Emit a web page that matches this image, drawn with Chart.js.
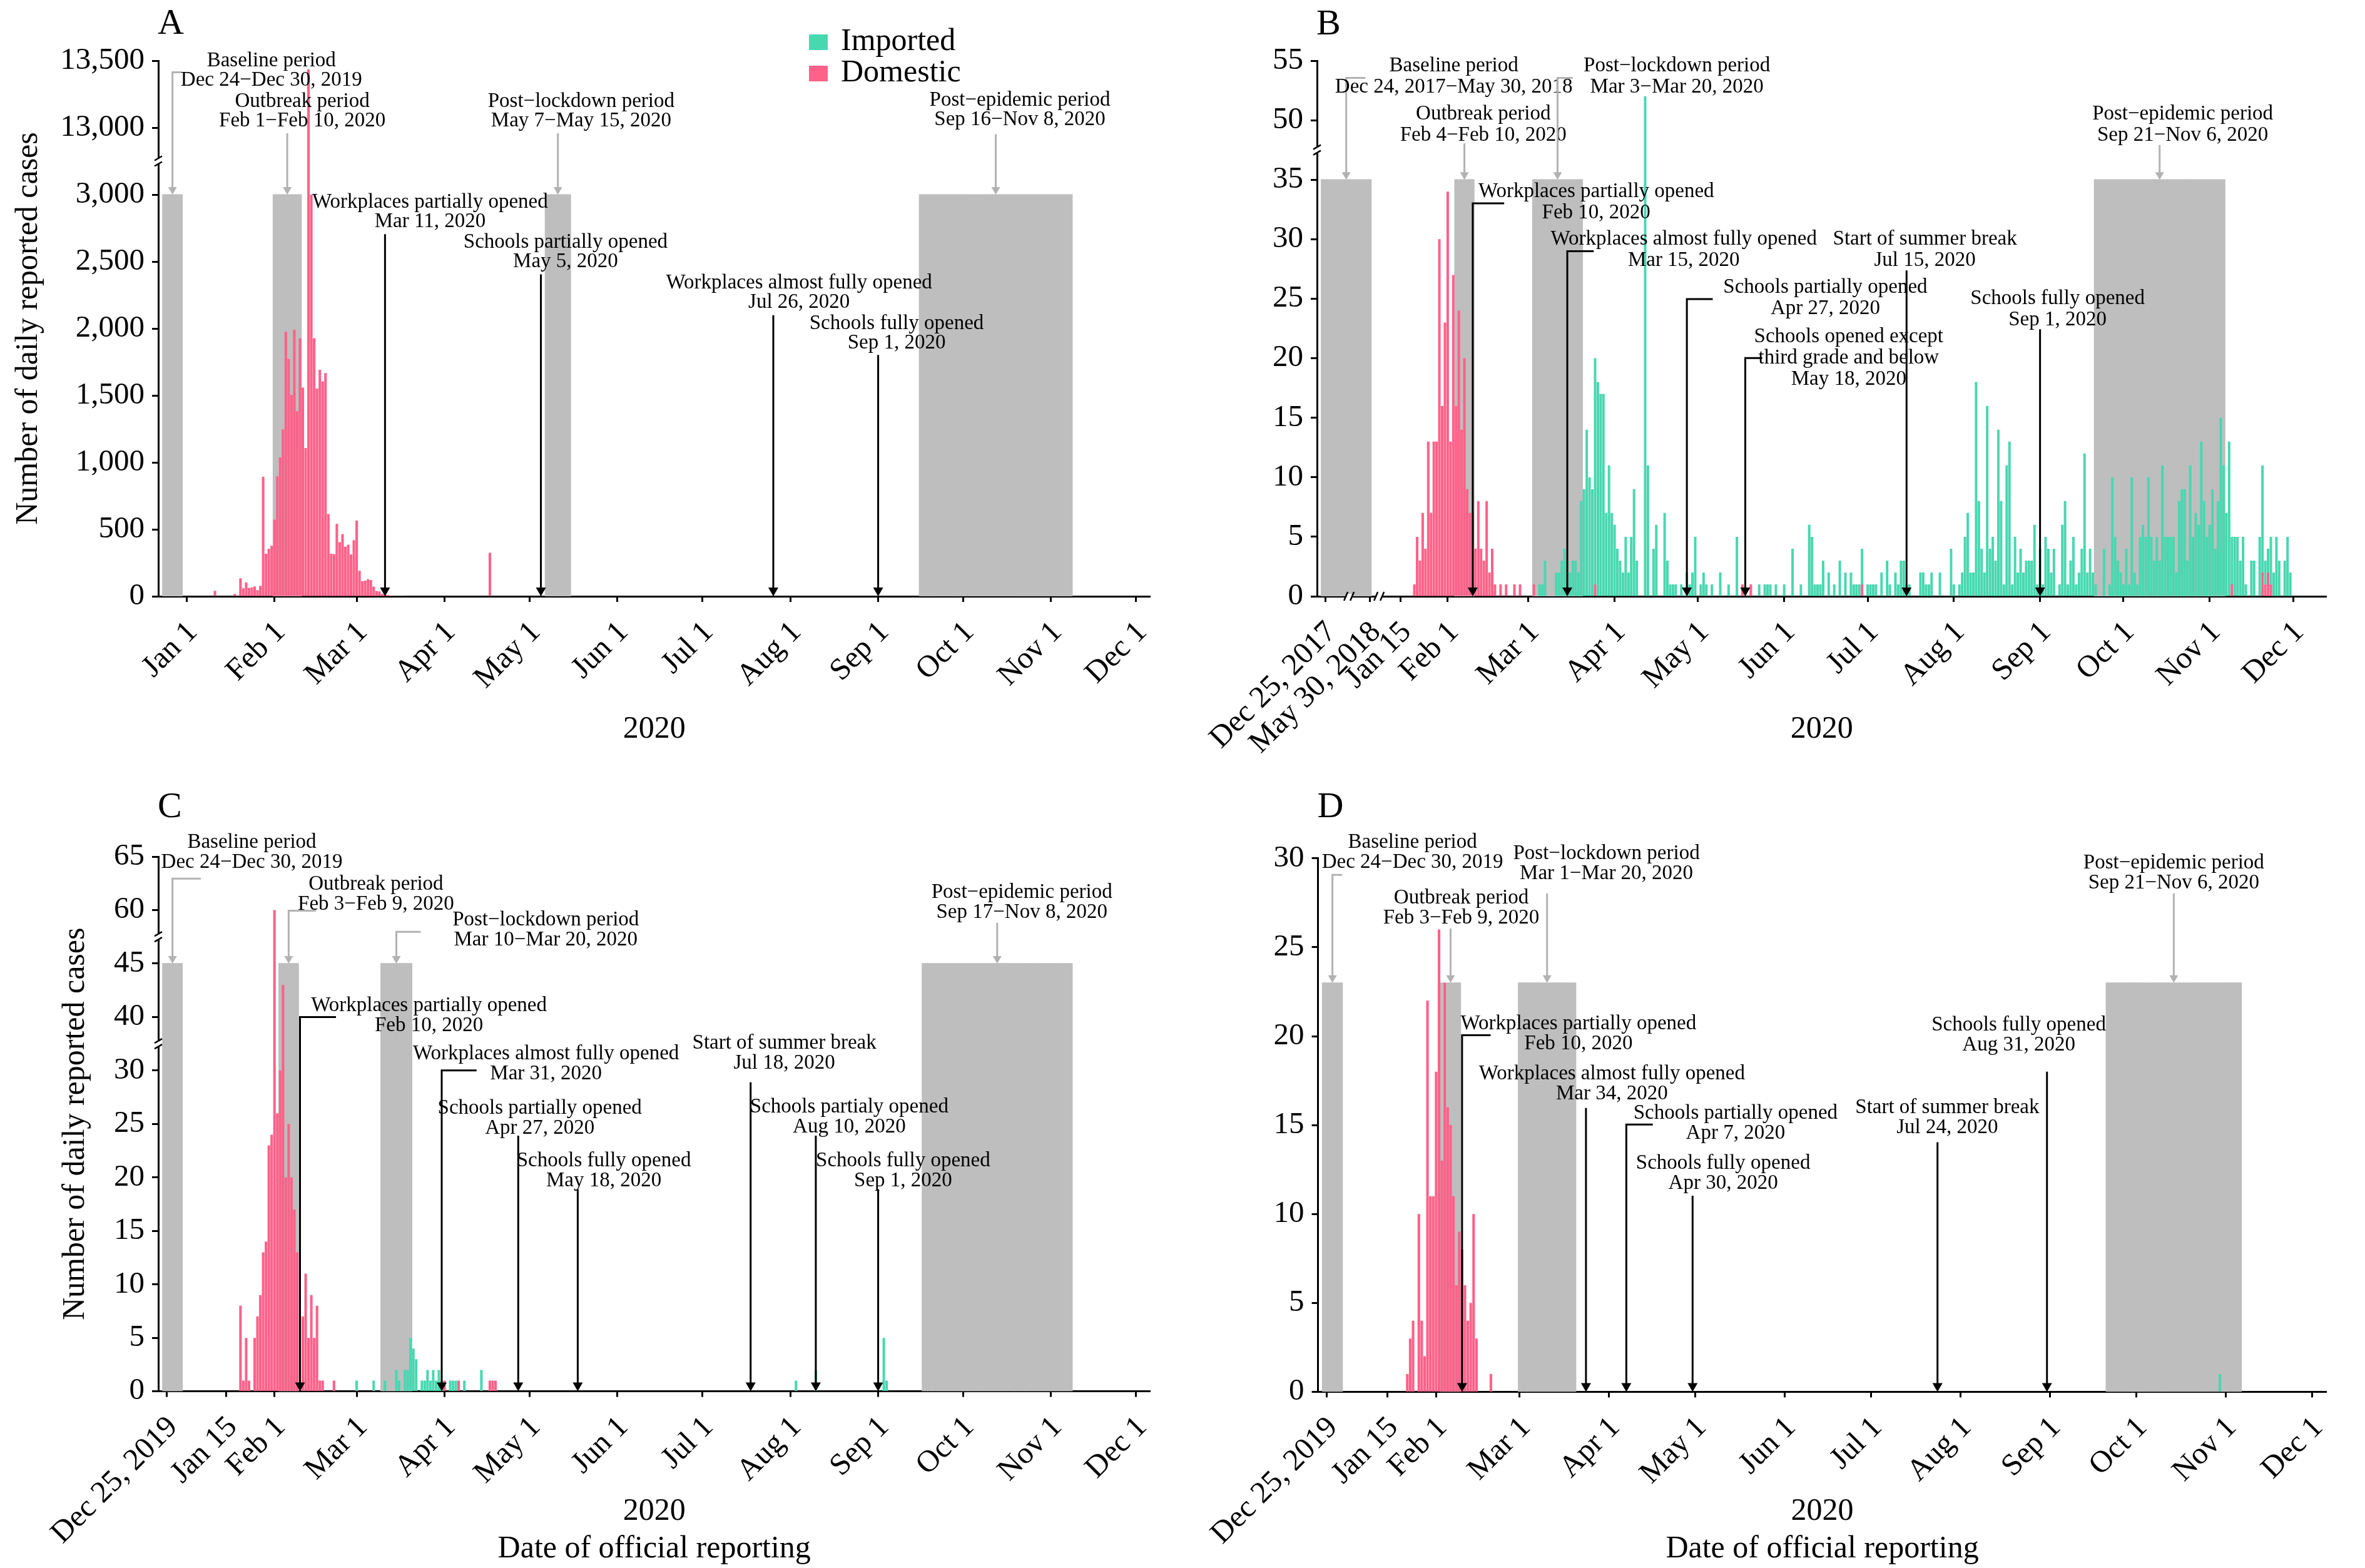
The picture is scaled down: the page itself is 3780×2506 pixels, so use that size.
<!DOCTYPE html>
<html lang="en">
<head>
<meta charset="utf-8">
<title>Daily reported cases</title>
<script src="https://cdn.jsdelivr.net/npm/chart.js@4.4.1/dist/chart.umd.min.js"></script>
<style>
  html, body { margin: 0; padding: 0; background: #fff; }
  #page { position: relative; width: 3780px; height: 2506px; background: #fff; overflow: hidden; }
  #page canvas { position: absolute; }
</style>
</head>
<body>
<div id="page">
  <canvas id="chartA" width="1900" height="1253" style="left:0;top:0;width:1900px;height:1253px"></canvas>
  <canvas id="chartB" width="1880" height="1253" style="left:1900px;top:0;width:1880px;height:1253px"></canvas>
  <canvas id="chartC" width="1900" height="1253" style="left:0;top:1253px;width:1900px;height:1253px"></canvas>
  <canvas id="chartD" width="1880" height="1253" style="left:1900px;top:1253px;width:1880px;height:1253px"></canvas>
</div>
<script>
// ---------------- data ----------------

// Panel A: daily domestic cases from aDomesticFrom, plus a late revision
const aDomesticFrom = '2020-01-11';
const aDomestic = [41, 0, 0, 0, 0, 0, 0, 17, 0, 134, 60, 104, 62, 67, 74, 45, 77, 893, 318, 355, 377,
  573, 896, 1037, 1246, 1975, 1772, 1504, 1990, 1382, 1926, 1558, 1107, 13436, 3000, 1928, 1551, 1692, 1605, 1667,
  615, 318, 315, 541, 404, 464, 370, 385, 313, 419,
  566, 191, 112, 117, 127, 122, 72, 40, 36, 17, 13, 8, 5, 4, 4, 1, 1];
const aDomesticDays = ['2020-04-17'];
const aDomesticCounts = [325];
const aImportedDays = [];
const aImportedCounts = [];

const aPeriodFrom = ['2019-12-24', '2020-02-01', '2020-05-07', '2020-09-16'];
const aPeriodTo = ['2019-12-30', '2020-02-10', '2020-05-15', '2020-11-08'];
const aPeriodText = [['Baseline period', 'Dec 24−Dec 30, 2019'], ['Outbreak period', 'Feb 1−Feb 10, 2020'],
  ['Post−lockdown period', 'May 7−May 15, 2020'], ['Post−epidemic period', 'Sep 16−Nov 8, 2020']];
const aEventDays = ['2020-03-11', '2020-05-05', '2020-07-26', '2020-09-01'];
const aEventText = [['Workplaces partially opened', 'Mar 11, 2020'], ['Schools partially opened', 'May 5, 2020'],
  ['Workplaces almost fully opened', 'Jul 26, 2020'], ['Schools fully opened', 'Sep 1, 2020']];

// Panel B
const bDomesticFrom = '2020-01-20';
const bDomestic = [1, 5, 3, 7, 4, 13, 7, 13, 13, 30, 16, 23,
  34, 13, 27, 16, 24, 14, 20, 9, 7, 7, 4, 8, 4, 3, 8, 2, 4, 1];
const bDomesticDays = ['2020-02-20', '2020-02-22', '2020-02-25', '2020-02-27', '2020-03-03', '2020-03-25',
  '2020-05-17', '2020-05-20', '2020-06-29', '2020-11-09', '2020-11-20', '2020-11-21', '2020-11-22', '2020-11-23'];
const bDomesticCounts = [1, 1, 1, 1, 1, 1, 1, 1, 1, 1, 2, 1, 2, 1];
const bImportedFrom = '2020-03-05';
const bImported = [
  1, 1, 3, 0, 0, 0, 2, 2, 3, 4,
  3, 2, 3, 3, 2, 8, 9, 14, 10, 9,
  19, 18, 17, 17, 7, 11, 7, 6, 4, 3,
  2, 5, 2, 5, 9, 3, 0, 0, 52, 11,
  0, 4, 6, 0, 0, 7, 3, 1, 1, 1,
  0, 1, 0, 2, 1, 2, 5, 0, 1, 2,
  1, 0, 1, 0, 0, 2, 0, 0, 1, 0,
  0, 5, 0, 0, 0, 0, 0, 0, 0, 1,
  0, 1, 1, 1, 0, 1, 0, 0, 1, 0,
  0, 4, 0, 0, 1, 0, 0, 6, 5, 1,
  1, 1, 3, 0, 2, 0, 1, 0, 3, 0,
  2, 0, 2, 1, 1, 1, 3, 0, 1, 1,
  1, 1, 0, 2, 0, 3, 1, 0, 2, 1,
  3, 3, 1, 1, 0, 0, 0, 2, 2, 1,
  1, 2, 0, 0, 2, 0, 0, 0, 4, 1,
  0, 1, 2, 5, 7, 2, 2, 18, 8, 4,
  2, 16, 4, 5, 3, 14, 8, 1, 11, 13,
  1, 5, 2, 4, 2, 3, 3, 3, 6, 1,
  4, 1, 5, 4, 2, 4, 0, 1, 6, 8,
  1, 3, 5, 1, 2, 4, 12, 2, 4, 2,
  1, 0, 0, 4, 0, 1, 10, 5, 3, 2,
  1, 4, 1, 10, 2, 1, 5, 6, 5, 10,
  5, 3, 5, 3, 11, 5, 5, 5, 5, 2,
  8, 9, 9, 3, 11, 5, 7, 6, 13, 8,
  5, 6, 9, 4, 8, 15, 11, 7, 13, 4,
  5, 5, 3, 5, 1, 0, 3, 3, 0, 5,
  9, 2, 2, 4, 2, 5, 3, 0, 3, 5, 2];

const bPeriodFrom = ['2017-12-24', '2020-02-04', '2020-03-03', '2020-09-21'];
const bPeriodTo = ['2018-05-30', '2020-02-10', '2020-03-20', '2020-11-06'];
const bPeriodText = [['Baseline period', 'Dec 24, 2017−May 30, 2018'], ['Outbreak period', 'Feb 4−Feb 10, 2020'],
  ['Post−lockdown period', 'Mar 3−Mar 20, 2020'], ['Post−epidemic period', 'Sep 21−Nov 6, 2020']];
const bEventDays = ['2020-02-10', '2020-03-15', '2020-04-27', '2020-05-18', '2020-07-15', '2020-09-01'];
const bEventText = [['Workplaces partially opened', 'Feb 10, 2020'], ['Workplaces almost fully opened', 'Mar 15, 2020'],
  ['Schools partially opened', 'Apr 27, 2020'], ['Schools opened except', 'third grade and below', 'May 18, 2020'],
  ['Start of summer break', 'Jul 15, 2020'], ['Schools fully opened', 'Sep 1, 2020']];

// Panel C
const cDomesticFrom = '2020-01-20';
const cDomestic = [8, 1, 5, 1, 0, 5, 7, 9, 13, 14, 23, 24,
  60, 26, 30, 43, 20, 25, 20, 17, 13, 0, 7, 11, 5, 9, 5, 8, 1, 1];
const cDomesticDays = ['2020-02-22', '2020-04-01', '2020-04-06', '2020-04-17', '2020-04-18', '2020-04-19'];
const cDomesticCounts = [1, 1, 1, 1, 1, 1];
const cImportedDays = ['2020-03-01', '2020-03-07', '2020-03-11', '2020-03-15', '2020-03-16', '2020-03-18',
  '2020-03-19', '2020-03-20', '2020-03-21', '2020-03-22', '2020-03-24', '2020-03-25', '2020-03-26',
  '2020-03-27', '2020-03-28', '2020-03-29', '2020-03-30', '2020-03-31', '2020-04-03', '2020-04-04',
  '2020-04-05', '2020-04-08', '2020-04-14', '2020-08-03', '2020-08-10', '2020-09-03', '2020-09-04'];
const cImportedCounts = [1, 1, 1, 2, 1, 2, 2, 5, 4, 3, 1, 1, 2, 1, 2, 1, 2, 1, 1, 1, 1, 1, 2, 1, 2, 5, 1];

const cPeriodFrom = ['2019-12-24', '2020-02-03', '2020-03-10', '2020-09-17'];
const cPeriodTo = ['2019-12-30', '2020-02-09', '2020-03-20', '2020-11-08'];
const cPeriodText = [['Baseline period', 'Dec 24−Dec 30, 2019'], ['Outbreak period', 'Feb 3−Feb 9, 2020'],
  ['Post−lockdown period', 'Mar 10−Mar 20, 2020'], ['Post−epidemic period', 'Sep 17−Nov 8, 2020']];
const cEventDays = ['2020-02-10', '2020-03-31', '2020-04-27', '2020-05-18', '2020-07-18', '2020-08-10', '2020-09-01'];
const cEventText = [['Workplaces partially opened', 'Feb 10, 2020'], ['Workplaces almost fully opened', 'Mar 31, 2020'],
  ['Schools partially opened', 'Apr 27, 2020'], ['Schools fully opened', 'May 18, 2020'],
  ['Start of summer break', 'Jul 18, 2020'], ['Schools partialy opened', 'Aug 10, 2020'],
  ['Schools fully opened', 'Sep 1, 2020']];

// Panel D
const dDomesticFrom = '2020-01-22';
const dDomestic = [1, 3, 4, 0, 10, 4, 2, 22, 11, 11,
  18, 26, 13, 23, 16, 15, 11, 6, 9, 8, 6, 4, 5, 10, 3];
const dDomesticDays = ['2020-02-20'];
const dDomesticCounts = [1];
const dImportedDays = ['2020-10-30'];
const dImportedCounts = [1];

const dPeriodFrom = ['2019-12-24', '2020-02-03', '2020-03-01', '2020-09-21'];
const dPeriodTo = ['2019-12-30', '2020-02-09', '2020-03-20', '2020-11-06'];
const dPeriodText = [['Baseline period', 'Dec 24−Dec 30, 2019'], ['Outbreak period', 'Feb 3−Feb 9, 2020'],
  ['Post−lockdown period', 'Mar 1−Mar 20, 2020'], ['Post−epidemic period', 'Sep 21−Nov 6, 2020']];
const dEventDays = ['2020-02-10', '2020-03-24', '2020-04-07', '2020-04-30', '2020-07-24', '2020-08-31'];
const dEventText = [['Workplaces partially opened', 'Feb 10, 2020'], ['Workplaces almost fully opened', 'Mar 34, 2020'],
  ['Schools partially opened', 'Apr 7, 2020'], ['Schools fully opened', 'Apr 30, 2020'],
  ['Start of summer break', 'Jul 24, 2020'], ['Schools fully opened', 'Aug 31, 2020']];

// tick labels on the date axes
const monthDays = ['2020-02-01', '2020-03-01', '2020-04-01', '2020-05-01', '2020-06-01', '2020-07-01',
  '2020-08-01', '2020-09-01', '2020-10-01', '2020-11-01', '2020-12-01'];
const monthText = ['Feb 1', 'Mar 1', 'Apr 1', 'May 1', 'Jun 1', 'Jul 1', 'Aug 1', 'Sep 1', 'Oct 1', 'Nov 1', 'Dec 1'];

// ---------------- label layout ----------------
// per note: [label centre offset in days, y of first line, y where the arrow starts, elbow length in days]
const aPeriodLayout = [[34.9, 3997, 3913, 3.2], [5.3, 3697, 3458, null], [8.2, 3697, 3458, null], [8.5, 3702, 3451, null]];
const aEventLayout = [[15.9, 2943, 2704, null], [8.7, 2643, 2404, null], [9.1, 2340, 2099, null], [6.5, 2038, 1802, null]];
const bPeriodLayout = [[38.7, 44.56, 43.56, 6.9], [6.8, 40.5, 38.04, null], [42.9, 44.56, 43.56, 5.5], [8.3, 40.5, 37.92, null]];
const bEventLayout = [[44.4, 34.02, 33.02, 11.3], [41.9, 29.99, 28.99, 9.5], [49.8, 25.97, 24.97, 9.3],
  [37.2, 21.82, 20.02, 6.1], [6.6, 29.99, 27.38, null], [6.3, 25.0, 22.43, null]];
const cPeriodLayout = [[28.0, 51.31, 47.94, 10], [30.8, 47.42, 44.94, 9.6], [52.7, 44.05, 42.97, 8.6], [8.7, 46.63, 43.81, null]];
const cEventLayout = [[45.5, 36.08, 35.0, 12.7], [36.8, 31.54, 30.0, 12.3], [7.6, 26.48, 23.9, null],
  [9.2, 21.56, 18.89, null], [11.9, 32.52, 28.9, null], [11.8, 26.57, 23.9, null], [8.8, 21.56, 18.89, null]];
const dPeriodLayout = [[27.8, 30.9, 29.07, 3.4], [3.7, 27.75, 26.05, null], [20.6, 30.28, 28.03, null], [0, 29.72, 28.03, null]];
const dEventLayout = [[40.4, 20.7, 20.05, 9.9], [9, 17.88, 15.96, null], [37.9, 15.65, 15.03, 9.2],
  [10.6, 12.86, 11.03, null], [3.4, 15.96, 14.04, null], [-9.8, 20.62, 18.0, null]];

// ---------------- colours and fonts ----------------
const PINK = '#ff6189';
const TEAL = '#48d8b0';
const BLOCK = '#bebebe';
const ARROW = '#b2b2b2';
const SERIF = '"Liberation Serif", "Times New Roman", serif';

Chart.defaults.font.family = SERIF;
Chart.defaults.color = '#000';

// ---------------- helpers ----------------
function days(from, to) {
  const out = [];
  const d = new Date(from + 'T00:00:00Z');
  const end = new Date(to + 'T00:00:00Z');
  while (d <= end) {
    out.push(d.toISOString().slice(0, 10));
    d.setUTCDate(d.getUTCDate() + 1);
  }
  return out;
}

function series(labels, from, values, extraDays, extraCounts, toAxis) {
  const out = labels.map(() => null);
  if (from) {
    const start = labels.indexOf(from);
    values.forEach((v, i) => { if (v) out[start + i] = v; });
  }
  extraDays.forEach((d, i) => { out[labels.indexOf(d)] = extraCounts[i]; });
  return out.map(v => (v === null ? null : toAxis(v)));
}

function tickMap(extraDays, extraText) {
  const map = {};
  extraDays.concat(monthDays).forEach((d, i) => { map[d] = extraText.concat(monthText)[i]; });
  return map;
}

function buildNotes(labels, pFrom, pTo, pText, pLayout, blockTop, eDays, eText, eLayout) {
  const notes = [];
  pFrom.forEach((s, i) => {
    const idx = [];
    labels.forEach((d, k) => { if (d >= s && d <= pTo[i]) idx.push(k); });
    const [dx, y, from, elbow] = pLayout[i];
    notes.push({ at: (idx[0] + idx[idx.length - 1]) / 2, tip: blockTop, lines: pText[i], dx, y, from, elbow, grey: true });
  });
  eDays.forEach((d, i) => {
    const [dx, y, from, elbow] = eLayout[i];
    notes.push({ at: labels.indexOf(d), tip: 0, lines: eText[i], dx, y, from, elbow, grey: false });
  });
  return notes;
}

function breakMark(ctx, x, y, vertical) {
  ctx.save();
  ctx.fillStyle = '#fff';
  ctx.fillRect(x - 4, y - 4, 8, 8);
  ctx.strokeStyle = '#000';
  ctx.lineWidth = 2.5;
  ctx.beginPath();
  if (vertical) {
    ctx.moveTo(x - 6, y - 1); ctx.lineTo(x + 6, y - 8);
    ctx.moveTo(x - 6, y + 8); ctx.lineTo(x + 6, y + 1);
  } else {
    ctx.moveTo(x - 8, y + 7); ctx.lineTo(x - 2, y - 7);
    ctx.moveTo(x + 2, y + 7); ctx.lineTo(x + 8, y - 7);
  }
  ctx.stroke();
  ctx.restore();
}

// arrows, labels, panel letter, breaks and legend
function notesPlugin(p) {
  return {
    id: 'notes' + p.letter,
    afterDraw(chart) {
      const { ctx, chartArea: area } = chart;
      const X = v => chart.scales.x.getPixelForValue(v);
      const Y = v => chart.scales.y.getPixelForValue(v);
      ctx.save();
      p.yBreaks.forEach(v => breakMark(ctx, area.left, Y(v), true));
      p.xBreaks.forEach(v => breakMark(ctx, X(v), area.bottom, false));

      p.notes.forEach(n => {
        const col = n.grey ? ARROW : '#000';
        const head = n.grey ? 12 : 14;
        const half = n.grey ? 7 : 8;
        const ax = X(n.at), y0 = Y(n.from), y1 = Y(n.tip);
        ctx.strokeStyle = col;
        ctx.fillStyle = col;
        ctx.lineWidth = 3;
        ctx.beginPath();
        if (n.elbow !== null) {
          ctx.moveTo(X(n.at + n.elbow), y0);
          ctx.lineTo(ax, y0);
        } else {
          ctx.moveTo(ax, y0);
        }
        ctx.lineTo(ax, y1 - head + 1);
        ctx.stroke();
        ctx.beginPath();
        ctx.moveTo(ax - half, y1 - head);
        ctx.lineTo(ax + half, y1 - head);
        ctx.lineTo(ax, y1);
        ctx.closePath();
        ctx.fill();

        ctx.fillStyle = '#000';
        ctx.font = '33px ' + SERIF;
        ctx.textAlign = 'center';
        ctx.textBaseline = 'middle';
        n.lines.forEach((t, i) => ctx.fillText(t, X(n.at + n.dx), Y(n.y) + i * p.lineHeight));
      });

      ctx.fillStyle = '#000';
      ctx.font = '58px ' + SERIF;
      ctx.textAlign = 'left';
      ctx.textBaseline = 'alphabetic';
      ctx.fillText(p.letter, area.left - 1, p.letterY);

      if (p.legend) {
        const [lx, ly] = p.legend;
        const items = [chart.data.datasets[1], chart.data.datasets[0]];
        ctx.font = '50px ' + SERIF;
        ctx.textBaseline = 'middle';
        items.forEach((ds, i) => {
          ctx.fillStyle = ds.backgroundColor;
          ctx.fillRect(lx, ly + i * 50, 30, 25);
          ctx.fillStyle = '#000';
          ctx.fillText(ds.label, lx + 51, ly + 12 + i * 50);
        });
      }
      ctx.restore();
    }
  };
}

function drawPanel(p) {
  const labels = p.labels;
  new Chart(document.getElementById(p.id), {
    type: 'bar',
    data: {
      labels,
      datasets: [
        { label: 'Domestic', data: p.domestic, backgroundColor: PINK, stack: 'cases', order: 1 },
        { label: 'Imported', data: p.imported, backgroundColor: TEAL, stack: 'cases', order: 1 },
        { label: 'Period', data: p.blocks, backgroundColor: BLOCK, stack: 'period', grouped: false, order: 2,
          barPercentage: 1, inflateAmount: 0.6 }
      ]
    },
    options: {
      responsive: false,
      animation: false,
      devicePixelRatio: 1,
      layout: { padding: { left: 0, top: p.top, right: p.right, bottom: 0 } },
      datasets: { bar: { barPercentage: 0.9, categoryPercentage: 1, inflateAmount: 0 } },
      plugins: { legend: { display: false }, tooltip: { enabled: false } },
      scales: {
        x: {
          offset: false,
          z: 1,
          grid: {
            offset: false, drawOnChartArea: false, drawTicks: true, tickLength: 9, tickWidth: 3,
            tickColor: c => (p.ticks[labels[c.index]] ? '#000' : 'rgba(0,0,0,0)')
          },
          border: { display: true, color: '#000', width: 3 },
          ticks: {
            autoSkip: false, maxRotation: 45, minRotation: 45, padding: 20, labelOffset: 10,
            font: { size: 49 }, color: '#000',
            callback: (v, i) => p.ticks[labels[i]] || ''
          },
          title: { display: true, text: p.xTitle, font: { size: 50 }, color: '#000', padding: { top: 0, bottom: p.xTitlePad } },
          afterFit: s => { s.height = p.xHeight; }
        },
        y: {
          stacked: true,
          min: 0,
          max: p.yMax,
          z: 1,
          grid: { drawOnChartArea: false, drawTicks: true, tickLength: 10, tickWidth: 3, tickColor: '#000' },
          border: { display: true, color: '#000', width: 3 },
          ticks: { stepSize: p.yStep, padding: 12, font: { size: 49 }, color: '#000', callback: v => p.yText(v) },
          title: { display: !!p.yTitle, text: 'Number of daily reported cases', font: { size: 50 }, color: '#000',
            padding: { top: p.yTitlePad, bottom: 0 } },
          afterFit: s => { s.width = p.yWidth; }
        }
      }
    },
    plugins: [notesPlugin(p)]
  });
}

// ---------------- panels ----------------
const year2020 = days('2019-12-22', '2020-12-06');
const bLabels = days('2017-12-22', '2018-01-02').concat(days('2018-05-23', '2018-05-30'), days('2020-01-05', '2020-12-13'));

// broken y axes: value -> axis position
const aAxis = v => (v <= 3000 ? v : v >= 13000 ? v - 9500 : 3000);
const bAxis = v => (v <= 35 ? v : v >= 50 ? v - 10 : 35);
const cAxis = v => (v <= 30 ? v : v < 40 ? 30 : v <= 45 ? v - 5 : v < 60 ? 40 : v - 15);
const dAxis = v => v;

const inPeriods = (labels, from, to, top) => labels.map(d => (from.some((s, i) => d >= s && d <= to[i]) ? top : null));

drawPanel({
  id: 'chartA', letter: 'A', letterY: 54, labels: year2020,
  domestic: series(year2020, aDomesticFrom, aDomestic, aDomesticDays, aDomesticCounts, aAxis),
  imported: series(year2020, null, [], aImportedDays, aImportedCounts, aAxis),
  blocks: inPeriods(year2020, aPeriodFrom, aPeriodTo, aAxis(3000)),
  notes: buildNotes(year2020, aPeriodFrom, aPeriodTo, aPeriodText, aPeriodLayout, aAxis(3000), aEventDays, aEventText, aEventLayout),
  ticks: tickMap(['2020-01-01'], ['Jan 1']),
  yMax: 4000, yStep: 500, yText: v => (v <= 3000 ? v : v + 9500).toLocaleString('en-US'),
  yBreaks: [3250], xBreaks: [], legend: [1293, 55], lineHeight: 31,
  yTitle: true, yTitlePad: 16, yWidth: 253, top: 97, right: 59, xHeight: 300, xTitle: '2020', xTitlePad: 57
});

drawPanel({
  id: 'chartB', letter: 'B', letterY: 55, labels: bLabels,
  domestic: series(bLabels, bDomesticFrom, bDomestic, bDomesticDays, bDomesticCounts, bAxis),
  imported: series(bLabels, bImportedFrom, bImported, [], [], bAxis),
  blocks: inPeriods(bLabels, bPeriodFrom, bPeriodTo, bAxis(35)),
  notes: buildNotes(bLabels, bPeriodFrom, bPeriodTo, bPeriodText, bPeriodLayout, bAxis(35), bEventDays, bEventText, bEventLayout),
  ticks: tickMap(['2017-12-25', '2018-05-30', '2020-01-15'], ['Dec 25, 2017', 'May 30, 2018', 'Jan 15']),
  yMax: 45, yStep: 5, yText: v => (v <= 35 ? v : v + 10),
  yBreaks: [37.5], xBreaks: [11.5, 22.3], legend: null, lineHeight: 34,
  yTitle: false, yTitlePad: 0, yWidth: 205, top: 97, right: 31.3, xHeight: 300, xTitle: '2020', xTitlePad: 57
});

drawPanel({
  id: 'chartC', letter: 'C', letterY: 53, labels: year2020,
  domestic: series(year2020, cDomesticFrom, cDomestic, cDomesticDays, cDomesticCounts, cAxis),
  imported: series(year2020, null, [], cImportedDays, cImportedCounts, cAxis),
  blocks: inPeriods(year2020, cPeriodFrom, cPeriodTo, cAxis(45)),
  notes: buildNotes(year2020, cPeriodFrom, cPeriodTo, cPeriodText, cPeriodLayout, cAxis(45), cEventDays, cEventText, cEventLayout),
  ticks: tickMap(['2019-12-25', '2020-01-15'], ['Dec 25, 2019', 'Jan 15']),
  yMax: 50, yStep: 5, yText: v => (v <= 30 ? v : v <= 40 ? v + 5 : v + 15),
  yBreaks: [32.5, 42.5], xBreaks: [], legend: null, lineHeight: 32,
  yTitle: true, yTitlePad: 91, yWidth: 253, top: 116, right: 7.4, xHeight: 282.4,
  xTitle: ['2020', 'Date of official reporting'], xTitlePad: 0
});

drawPanel({
  id: 'chartD', letter: 'D', letterY: 53, labels: year2020,
  domestic: series(year2020, dDomesticFrom, dDomestic, dDomesticDays, dDomesticCounts, dAxis),
  imported: series(year2020, null, [], dImportedDays, dImportedCounts, dAxis),
  blocks: inPeriods(year2020, dPeriodFrom, dPeriodTo, 23),
  notes: buildNotes(year2020, dPeriodFrom, dPeriodTo, dPeriodText, dPeriodLayout, 23, dEventDays, dEventText, dEventLayout),
  ticks: tickMap(['2019-12-25', '2020-01-15'], ['Dec 25, 2019', 'Jan 15']),
  yMax: 30, yStep: 5, yText: v => v,
  yBreaks: [], xBreaks: [], legend: null, lineHeight: 32,
  yTitle: false, yTitlePad: 0, yWidth: 206.6, top: 118.8, right: 29.6, xHeight: 281.6,
  xTitle: ['2020', 'Date of official reporting'], xTitlePad: 0
});
</script>
</body>
</html>
